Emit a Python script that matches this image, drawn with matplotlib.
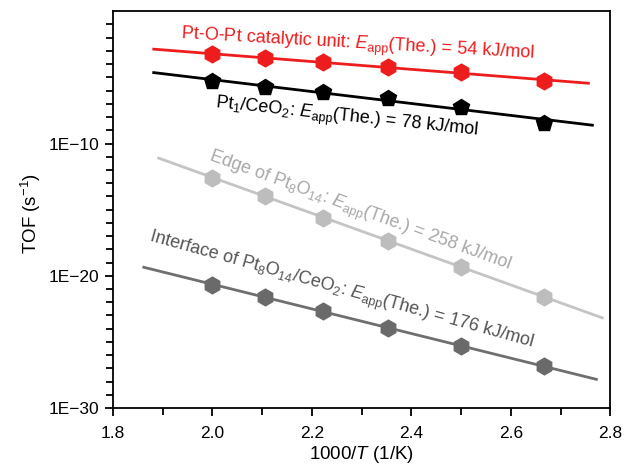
import numpy as np
import matplotlib
matplotlib.use("Agg")
import matplotlib.pyplot as plt
from matplotlib.ticker import FixedLocator, FixedFormatter

plt.rcParams['font.family'] = ['Liberation Sans', 'DejaVu Sans']
plt.rcParams['mathtext.fontset'] = 'custom'
plt.rcParams['mathtext.rm'] = 'Liberation Sans'
plt.rcParams['mathtext.it'] = 'Liberation Sans:italic'
plt.rcParams['mathtext.bf'] = 'Liberation Sans:bold'

# 1000/T points (T = 500 ... 375 K)
inv_T = [2.0, 2.105, 2.222, 2.353, 2.5, 2.667]

# log10(TOF)
ptopt_log = [-3.27, -3.53, -3.85, -4.20, -4.60, -5.28]
pt1_log = [-5.28, -5.73, -6.09, -6.59, -7.24, -8.42]
edge_log = [-12.57, -13.95, -15.63, -17.34, -19.30, -21.61]
iface_log = [-20.66, -21.61, -22.66, -23.94, -25.33, -26.83]

# x extent of the fitted lines
ptopt_span = [1.882, 2.756]
pt1_span = [1.882, 2.764]
edge_span = [1.892, 2.784]
iface_span = [1.862, 2.772]

series = [
    (ptopt_log, ptopt_span, '#ee1d1d', '#ee1d1d', 'h'),
    (pt1_log, pt1_span, '#000000', '#000000', 'p'),
    (edge_log, edge_span, '#c4c4c4', '#bdbdbd', 'h'),
    (iface_log, iface_span, '#6f6f6f', '#6a6a6a', 'h'),
]

fig = plt.figure(figsize=(6.24, 4.68), dpi=100)
ax = fig.add_axes([0.181, 0.128, 0.797, 0.848])

for ylog, span, lc, mc, mk in series:
    k, b = np.polyfit(inv_T, ylog, 1)
    xs = np.array(span)
    ax.plot(xs, 10 ** (k * xs + b), color=lc, lw=2, zorder=2)
    ax.plot(inv_T, 10 ** np.array(ylog), ls='none', marker=mk, ms=12,
            color=mc, mec=mc, zorder=3)

ax.set_yscale('log')
ax.set_xlim(1.8, 2.8)
ax.set_ylim(1e-30, 1e0)

ax.xaxis.set_major_locator(FixedLocator([1.8, 2.0, 2.2, 2.4, 2.6, 2.8]))
ax.xaxis.set_major_formatter(FixedFormatter(['1.8', '2.0', '2.2', '2.4', '2.6', '2.8']))
ax.xaxis.set_minor_locator(FixedLocator([1.9, 2.1, 2.3, 2.5, 2.7]))
ax.yaxis.set_major_locator(FixedLocator([1e-30, 1e-20, 1e-10]))
ax.yaxis.set_major_formatter(FixedFormatter(['1E\u221230', '1E\u221220', '1E\u221210']))
ax.yaxis.set_minor_locator(FixedLocator([10.0 ** e for e in range(-29, 0) if e % 10 != 0]))
ax.yaxis.set_minor_formatter(FixedFormatter([]))

ax.tick_params(which='both', direction='out', width=1.3, labelsize=12.5, top=False, right=False)
ax.tick_params(which='major', length=6)
ax.tick_params(which='minor', length=5)
ax.tick_params(axis='x', which='major', pad=7)
for s in ax.spines.values():
    s.set_linewidth(1.3)

ax.set_xlabel('1000/$T$ (1/K)', fontsize=13.5, labelpad=2)
ax.set_ylabel('TOF (s$^{\u22121}$)', fontsize=13.5, labelpad=4)
ax.yaxis.set_label_coords(-0.14, 0.49)

kw = dict(fontsize=13, transform=ax.transData, ha='left', va='baseline',
          rotation_mode='anchor')
ax.text(1.935, 10 ** -2.1, 'Pt-O-Pt catalytic unit: $E_{\\mathrm{app}}$(The.) = 54 kJ/mol',
        color='#ee1d1d', rotation=-3.2, **kw)
ax.text(2.005, 10 ** -7.32, 'Pt$_1$/CeO$_2$: $E_{\\mathrm{app}}$(The.) = 78 kJ/mol',
        color='#000000', rotation=-6, **kw)
ax.text(1.991, 10 ** -11.25, 'Edge of Pt$_8$O$_{14}$: $E_{\\mathrm{app}}$(The.) = 258 kJ/mol',
        color='#a8a8a8', rotation=-20, **kw)
ax.text(1.870, 10 ** -17.38, 'Interface of Pt$_8$O$_{14}$/CeO$_2$: $E_{\\mathrm{app}}$(The.) = 176 kJ/mol',
        color='#555555', rotation=-15.5, **kw)

fig.savefig('out.png', dpi=100)
